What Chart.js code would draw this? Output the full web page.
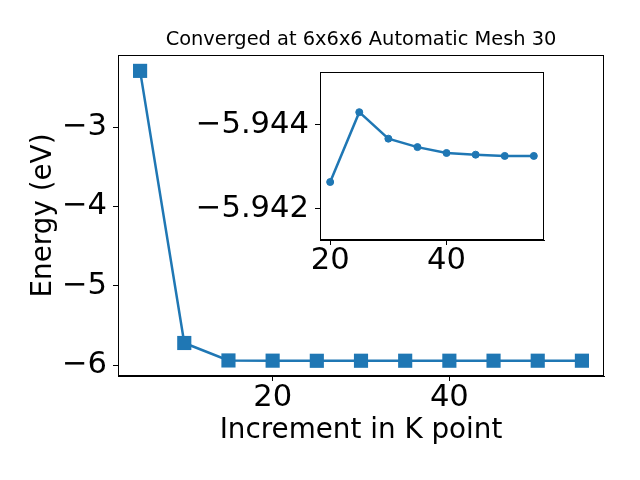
<!DOCTYPE html>
<html><head><meta charset="utf-8">
<script src="https://cdn.jsdelivr.net/npm/chart.js@4/dist/chart.umd.min.js"></script>
<style>
html,body{margin:0;padding:0;background:#fff;}
#wrap{position:relative;width:640px;height:480px;overflow:hidden;}
#main{position:absolute;left:0;top:0;}
#inset{position:absolute;left:190px;top:60px;}
</style></head><body>
<div id="wrap"><canvas id="main" width="640" height="480"></canvas><canvas id="inset" width="370" height="220"></canvas></div>
<script>
// ---- data ----
const kPoints = [5, 10, 15, 20, 25, 30, 35, 40, 45, 50, 55];
const energies = [-2.29, -5.72, -5.94, -5.94264, -5.9443, -5.94367, -5.94347, -5.94333, -5.94329, -5.94326, -5.94326];
const insetK = [20, 25, 30, 35, 40, 45, 50, 55];
const insetEnergies = [-5.94264, -5.9443, -5.94367, -5.94347, -5.94333, -5.94329, -5.94326, -5.94326];
const mainXTicks = [20, 40];
const mainYTicks = [-3, -4, -5, -6];
const insetXTicks = [20, 40];
const insetYTicks = [-5.944, -5.942];
const titleText = 'Converged at 6x6x6 Automatic Mesh 30';
const xLabel = 'Increment in K point';
const yLabel = 'Energy (eV)';

// ---- styling ----
const FONT = 'DejaVu Sans';
const BLUE = '#1f77b4';
const TICK_SIZE = 30.6;
const LABEL_SIZE = 27.8;
const TITLE_SIZE = 19.4;
const fmt = (v, d) => (v < 0 ? '\u2212' : '') + Math.abs(v).toFixed(d);

const framePlugin = {
  id: 'frame',
  beforeDraw(chart) {
    const {ctx, chartArea: a} = chart;
    ctx.save(); ctx.fillStyle = '#fff';
    ctx.fillRect(a.left, a.top, a.right - a.left, a.bottom - a.top);
    ctx.restore();
  },
  afterDraw(chart) {
    const {ctx, chartArea: a} = chart;
    ctx.save(); ctx.strokeStyle = '#000'; ctx.lineWidth = 1;
    ctx.strokeRect(Math.round(a.left) + 0.5, Math.round(a.top) + 0.5,
      Math.round(a.right - a.left) - 1, Math.round(a.bottom - a.top) - 1);
    ctx.restore();
  }
};
const titlePlugin = {
  id: 'mtitle',
  afterDraw(chart) {
    const {ctx, chartArea: a} = chart;
    ctx.save(); ctx.fillStyle = '#000'; ctx.font = TITLE_SIZE + 'px "' + FONT + '"';
    ctx.textAlign = 'center'; ctx.textBaseline = 'middle';
    ctx.fillText(titleText, (a.left + a.right) / 2, 40);
    ctx.restore();
  }
};

function axis(opts) {
  return Object.assign({
    type: 'linear',
    grid: {drawOnChartArea: false, drawTicks: true, tickLength: 5, color: '#000'},
    border: {display: true, color: '#000'},
  }, opts);
}
function fixX(h) { return s => { s.height = h; s.paddingLeft = 0; s.paddingRight = 0; }; }
function fixY(w) { return s => { s.width = w; s.paddingTop = 0; s.paddingBottom = 0; }; }

new Chart(document.getElementById('main'), {
  type: 'line',
  data: {datasets: [{
    data: kPoints.map((k, i) => ({x: k, y: energies[i]})),
    borderColor: BLUE, backgroundColor: BLUE, borderWidth: 2.5,
    pointStyle: 'rect', pointRadius: 10, pointBorderWidth: 0, pointBackgroundColor: BLUE,
    tension: 0, fill: false
  }]},
  options: {
    responsive: false, animation: false, devicePixelRatio: 1,
    layout: {padding: {top: 55, right: 36, left: 0, bottom: 0}},
    plugins: {legend: {display: false}, tooltip: {enabled: false}, title: {display: false}},
    scales: {
      x: axis({
        min: 2.5, max: 57.5,
        afterBuildTicks: s => { s.ticks = mainXTicks.map(v => ({value: v})); },
        afterFit: fixX(104),
        ticks: {font: {family: FONT, size: TICK_SIZE}, color: '#000', padding: -1, maxRotation: 0, autoSkip: false,
          callback: v => fmt(v, 0)},
        title: {display: true, text: xLabel, font: {family: FONT, size: LABEL_SIZE}, color: '#000', padding: {top: 0, bottom: 33}}
      }),
      y: axis({
        min: -6.136, max: -2.09,
        afterBuildTicks: s => { s.ticks = mainYTicks.map(v => ({value: v})); },
        afterFit: fixY(118),
        ticks: {font: {family: FONT, size: TICK_SIZE}, color: '#000', padding: 6, autoSkip: false,
          callback: v => fmt(v, 0)},
        title: {display: true, text: yLabel, font: {family: FONT, size: LABEL_SIZE}, color: '#000', padding: {top: 27, bottom: 0}}
      })
    }
  },
  plugins: [framePlugin, titlePlugin]
});

new Chart(document.getElementById('inset'), {
  type: 'line',
  data: {datasets: [{
    data: insetK.map((k, i) => ({x: k, y: insetEnergies[i]})),
    borderColor: BLUE, backgroundColor: BLUE, borderWidth: 2.5,
    pointStyle: 'circle', pointRadius: 3.5, pointBorderWidth: 1, pointBackgroundColor: BLUE,
    tension: 0, fill: false
  }]},
  options: {
    responsive: false, animation: false, devicePixelRatio: 1,
    layout: {padding: {top: 12, right: 16, left: 0, bottom: 0}},
    plugins: {legend: {display: false}, tooltip: {enabled: false}, title: {display: false}},
    scales: {
      x: axis({
        min: 18.25, max: 56.75,
        afterBuildTicks: s => { s.ticks = insetXTicks.map(v => ({value: v})); },
        afterFit: fixX(40),
        ticks: {font: {family: FONT, size: TICK_SIZE}, color: '#000', padding: -2, maxRotation: 0, autoSkip: false,
          callback: v => fmt(v, 0)}
      }),
      y: axis({
        reverse: true,
        min: -5.945255, max: -5.941262,
        afterBuildTicks: s => { s.ticks = insetYTicks.map(v => ({value: v})); },
        afterFit: fixY(130),
        ticks: {font: {family: FONT, size: TICK_SIZE}, color: '#000', padding: 6, autoSkip: false,
          callback: v => fmt(v, 3)}
      })
    }
  },
  plugins: [framePlugin]
});
</script>
</body></html>
